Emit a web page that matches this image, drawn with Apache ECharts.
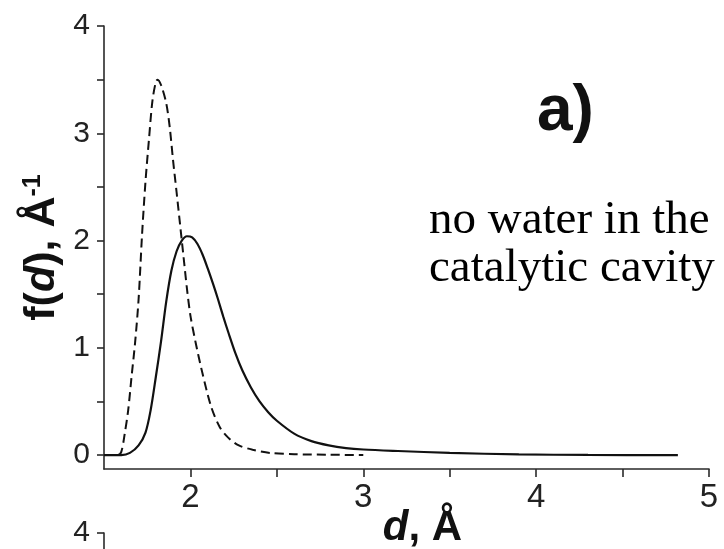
<!DOCTYPE html>
<html>
<head>
<meta charset="utf-8">
<script src="https://cdn.jsdelivr.net/npm/echarts@6/dist/echarts.min.js"></script>
<style>
  html, body { margin: 0; padding: 0; background: #fff; }
  #chart { width: 724px; height: 549px; }
</style>
</head>
<body>
<div id="chart"></div>
<script>
// Distance distribution f(d) — dashed and solid profiles
const dashedD = [1.50, 1.58, 1.60, 1.62, 1.64, 1.66, 1.68, 1.70, 1.72, 1.74, 1.76, 1.78, 1.80, 1.81, 1.83, 1.86, 1.88, 1.90, 1.92, 1.94, 1.96, 1.98, 2.00, 2.03, 2.07, 2.12, 2.17, 2.22, 2.28, 2.36, 2.46, 2.60, 2.80, 3.00];
const dashedF = [0, 0, 0.03, 0.20, 0.42, 0.74, 1.05, 1.45, 2.05, 2.55, 2.94, 3.30, 3.48, 3.50, 3.45, 3.28, 3.06, 2.74, 2.45, 2.15, 1.85, 1.55, 1.30, 1.05, 0.76, 0.45, 0.26, 0.16, 0.09, 0.05, 0.02, 0.008, 0.003, 0];

const solidD = [1.50, 1.60, 1.65, 1.70, 1.74, 1.77, 1.80, 1.83, 1.86, 1.89, 1.92, 1.95, 1.98, 2.01, 2.04, 2.07, 2.10, 2.13, 2.16, 2.19, 2.22, 2.26, 2.30, 2.35, 2.40, 2.45, 2.50, 2.60, 2.70, 2.80, 2.90, 3.00, 3.20, 3.50, 3.90, 4.30, 4.82];
const solidF = [0, 0, 0.02, 0.09, 0.21, 0.42, 0.73, 1.06, 1.43, 1.72, 1.90, 2.00, 2.04, 2.03, 1.97, 1.87, 1.74, 1.60, 1.45, 1.29, 1.14, 0.95, 0.79, 0.63, 0.50, 0.40, 0.32, 0.20, 0.13, 0.09, 0.065, 0.052, 0.038, 0.02, 0.006, 0.001, 0];

const xTicks = [2, 2.5, 3, 3.5, 4, 4.5, 5];
const xLabels = [2, 3, 4, 5];
const yTicks = [0, 0.5, 1, 1.5, 2, 2.5, 3, 3.5, 4];
const yLabels = [0, 1, 2, 3, 4];

const pairs = (xs, ys) => xs.map((x, i) => [x, ys[i]]);

const axisCol = '#2a2a2a';
const sans = '"Liberation Sans", Arial, sans-serif';

const chart = echarts.init(document.getElementById('chart'));
chart.setOption({
  animation: false,
  backgroundColor: '#fff',
  title: [
    {
      text: 'a)', left: 537, top: 80, padding: 0,
      textStyle: { fontFamily: sans, fontWeight: 'bold', fontSize: 64, color: '#111', lineHeight: 64 }
    },
    {
      text: 'no water in the\ncatalytic cavity', left: 429, top: 197, padding: 0,
      textStyle: { fontFamily: '"Liberation Serif", "Times New Roman", serif', fontWeight: 'normal', fontSize: 47, lineHeight: 48, color: '#000' }
    }
  ],
  grid: [
    { left: 104, right: 15, top: 26, bottom: 80, containLabel: false, outerBoundsMode: 'none' },
    { left: 104, right: 15, top: 533, bottom: -300, containLabel: false, outerBoundsMode: 'none' }
  ],
  xAxis: [
    {
      type: 'value', gridIndex: 0, min: 1.5, max: 5,
      name: '{i|d}{b|, Å}',
      nameLocation: 'middle', nameGap: 38, nameMoveOverlap: false,
      nameTextStyle: {
        padding: [0, 0, 0, 32],
        rich: {
          i: { fontFamily: sans, fontWeight: 'bold', fontStyle: 'italic', fontSize: 42, color: '#111' },
          b: { fontFamily: sans, fontWeight: 'bold', fontSize: 42, color: '#111' }
        }
      },
      splitLine: { show: false },
      axisLine: { onZero: false, lineStyle: { color: axisCol, width: 1.6 } },
      axisTick: { show: true, customValues: xTicks, length: 8, inside: false, lineStyle: { color: axisCol, width: 1.6 } },
      axisLabel: { customValues: xLabels, margin: 12, fontFamily: sans, fontSize: 33, color: '#222' }
    },
    { type: 'value', gridIndex: 1, min: 1.5, max: 5, show: false }
  ],
  yAxis: [
    {
      type: 'value', gridIndex: 0, min: -0.13, max: 4,
      name: '{b|f(}{i|d}{b|), Å}{s|-1}',
      nameLocation: 'middle', nameGap: 40, nameRotate: 90, nameMoveOverlap: false,
      nameTextStyle: {
        rich: {
          b: { fontFamily: sans, fontWeight: 'bold', fontSize: 43, color: '#111', verticalAlign: 'bottom' },
          i: { fontFamily: sans, fontWeight: 'bold', fontStyle: 'italic', fontSize: 43, color: '#111', verticalAlign: 'bottom' },
          s: { fontFamily: sans, fontWeight: 'bold', fontSize: 25, color: '#111', verticalAlign: 'top' }
        }
      },
      splitLine: { show: false },
      axisLine: { show: true, onZero: false, lineStyle: { color: axisCol, width: 1.6 } },
      axisTick: { show: true, customValues: yTicks, length: 7, lineStyle: { color: axisCol, width: 1.6 } },
      axisLabel: { customValues: yLabels, margin: 14, fontFamily: sans, fontSize: 30, color: '#222' }
    },
    {
      type: 'value', gridIndex: 1, min: 0, max: 4,
      splitLine: { show: false },
      axisLine: { show: true, onZero: false, lineStyle: { color: axisCol, width: 1.6 } },
      axisTick: { show: true, customValues: [4], length: 7, lineStyle: { color: axisCol, width: 1.6 } },
      axisLabel: { customValues: [4], margin: 14, fontFamily: sans, fontSize: 30, color: '#222' }
    }
  ],
  series: [
    {
      type: 'line', xAxisIndex: 0, yAxisIndex: 0,
      data: pairs(dashedD, dashedF),
      showSymbol: false, smooth: 0.3,
      lineStyle: { color: '#111', width: 2, type: [9, 5] }
    },
    {
      type: 'line', xAxisIndex: 0, yAxisIndex: 0,
      data: pairs(solidD, solidF),
      showSymbol: false, smooth: 0.3,
      lineStyle: { color: '#111', width: 2.2 }
    }
  ]
});
</script>
</body>
</html>
